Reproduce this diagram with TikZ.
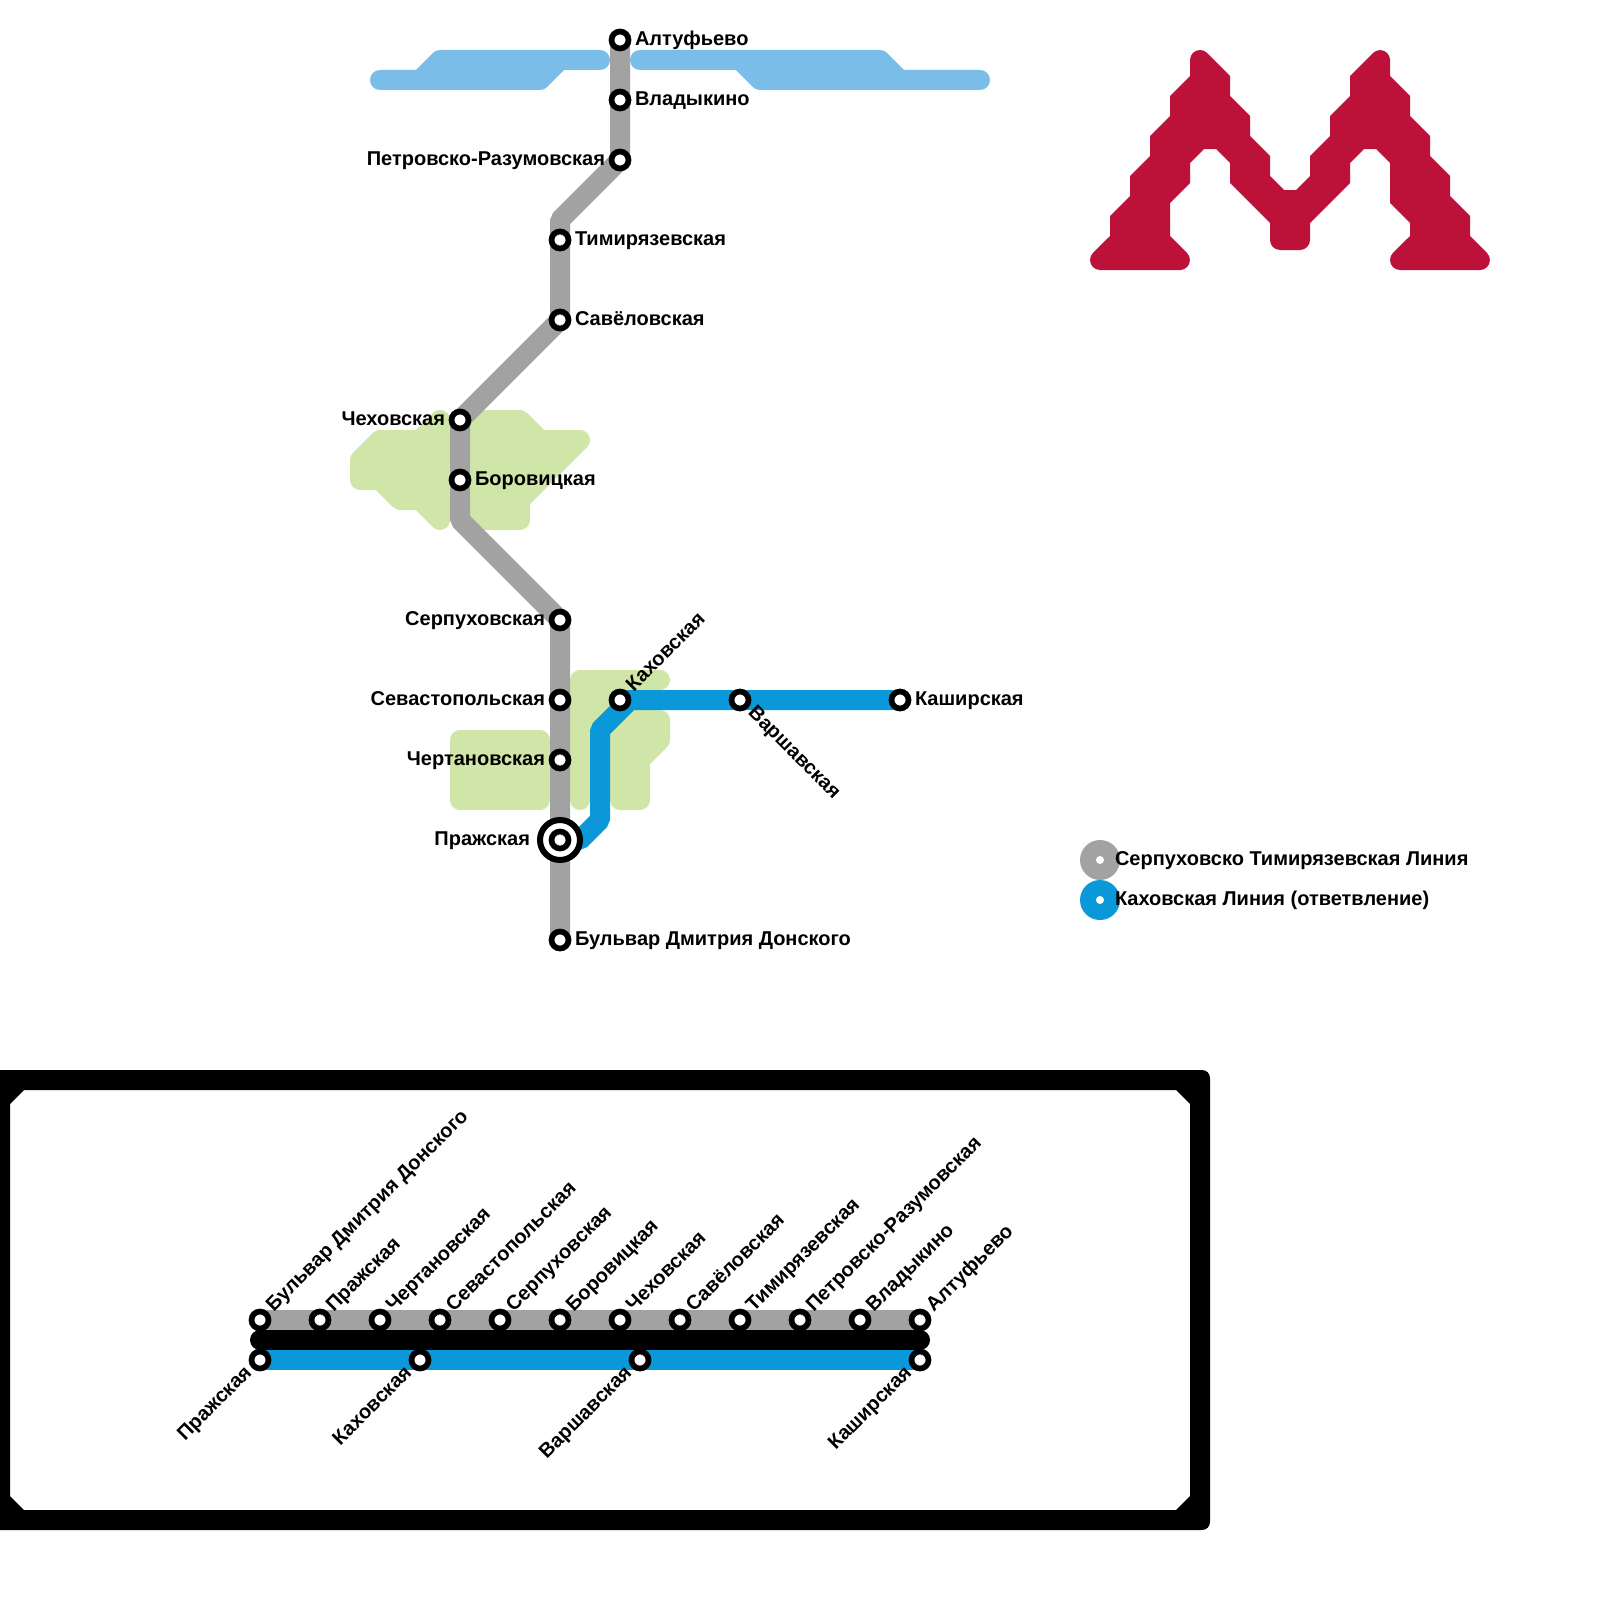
\documentclass[tikz,border=0pt]{standalone}
\usepackage{fontspec}
\setmainfont{Liberation Sans}
\usetikzlibrary{backgrounds}
\definecolor{lgray}{HTML}{A2A2A2}
\definecolor{lblue}{HTML}{0A98D8}
\definecolor{parkg}{HTML}{D0E5A8}
\definecolor{riverb}{HTML}{7ABDE8}
\definecolor{logor}{HTML}{BC123A}
\tikzset{
  stn/.style={circle,draw=black,fill=white,line width=2.85pt,inner sep=0pt,outer sep=0pt,minimum size=8.5pt},
  hub/.style={circle,draw=black,fill=white,line width=3pt,inner sep=0pt,outer sep=0pt,minimum size=20pt},
  lbl/.style={font=\bfseries\fontsize{10}{12}\selectfont,inner sep=0pt,outer sep=0pt,text=black},
  lr/.style={lbl,anchor=base west},
  ll/.style={lbl,anchor=base east},
  lineg/.style={draw=lgray,line width=10pt,line join=bevel},
  lineb/.style={draw=lblue,line width=10pt,line join=bevel},
  bar/.style={draw=black,line width=10pt,line cap=round},
  park/.style={draw=parkg,fill=parkg,line width=10pt,line join=round,line cap=round},
  river/.style={draw=riverb,fill=riverb,line width=10pt,line join=round,line cap=round},
  legdot/.style={circle,fill=#1,inner sep=0pt,outer sep=0pt,minimum size=20pt},
  legcen/.style={circle,fill=white,inner sep=0pt,outer sep=0pt,minimum size=4pt}
}
\begin{document}
\begin{tikzpicture}[x=0.5pt,y=-0.5pt]
\useasboundingbox (0,0) rectangle (1600,1600);
% stations of the main scheme
\node[stn] (alt) at (620,40) {};
\node[stn] (vla) at (620,100) {};
\node[stn] (pet) at (620,160) {};
\coordinate (b1) at (560,220);
\node[stn] (tim) at (560,240) {};
\node[stn] (sav) at (560,320) {};
\node[stn] (che) at (460,420) {};
\node[stn] (bor) at (460,480) {};
\coordinate (b2) at (460,520);
\node[stn] (ser) at (560,620) {};
\node[stn] (sev) at (560,700) {};
\node[stn] (cht) at (560,760) {};
\node[hub] (prh) at (560,840) {};
\node[stn] (pra) at (560,840) {};
\node[stn] (bul) at (560,940) {};
\node[stn] (kah) at (620,700) {};
\node[stn] (var) at (740,700) {};
\node[stn] (kas) at (900,700) {};
\coordinate (b3) at (630,700);
\coordinate (b4) at (600,730);
\coordinate (b5) at (600,820);
\coordinate (b6) at (580,840);
% labels
\path (alt) ++(15,5.5) node[lr] (lalt) {Алтуфьево};
\path (vla) ++(15,5.5) node[lr] (lvla) {Владыкино};
\path (pet) ++(-15,5.5) node[ll] (lpet) {Петровско-Разумовская};
\path (tim) ++(15,5.5) node[lr] (ltim) {Тимирязевская};
\path (sav) ++(15,5.5) node[lr] (lsav) {Савёловская};
\path (che) ++(-15,5.5) node[ll] (lche) {Чеховская};
\path (bor) ++(15,5.5) node[lr] (lbor) {Боровицкая};
\path (ser) ++(-15,5.5) node[ll] (lser) {Серпуховская};
\path (sev) ++(-15,5.5) node[ll] (lsev) {Севастопольская};
\path (cht) ++(-15,5.5) node[ll] (lcht) {Чертановская};
\path (pra) ++(-30,5.5) node[ll] (lpra) {Пражская};
\path (bul) ++(15,5.5) node[lr] (lbul) {Бульвар Дмитрия Донского};
\path (kas) ++(15,5.5) node[lr] (lkas) {Каширская};
\path (kah) ++(13.8,-7.4) node[lr,rotate=45] (lkah) {Каховская};
\path (var) ++(7.4,13.8) node[lr,rotate=-45] (lvar) {Варшавская};
% lower scheme
\foreach \i/\t [evaluate=\i as \xx using {260+60*\i}] in {0/Бульвар Дмитрия Донского,1/Пражская,2/Чертановская,3/Севастопольская,4/Серпуховская,5/Боровицкая,6/Чеховская,7/Савёловская,8/Тимирязевская,9/Петровско-Разумовская,10/Владыкино,11/Алтуфьево}{
  \node[stn] (t\i) at (\xx,1320) {};
  \path (t\i) ++(13.8,-7.4) node[lr,rotate=45] (lt\i) {\t};
}
\foreach \n/\xx/\t in {0/260/Пражская,1/420/Каховская,2/640/Варшавская,3/920/Каширская}{
  \node[stn] (u\n) at (\xx,1360) {};
  \path (u\n) ++(-7.4,13.8) node[ll,rotate=45] (lu\n) {\t};
}
\coordinate (bl) at (260,1340);
\coordinate (br) at (920,1340);
% legend
\node[legdot=lgray] (lg1) at (1100,860) {};
\node[legdot=lblue] (lg2) at (1100,900) {};
\node[legcen] (lc1) at (lg1) {};
\node[legcen] (lc2) at (lg2) {};
\path (lg1) ++(15,5.5) node[lr] (lt1a) {Серпуховско Тимирязевская Линия};
\path (lg2) ++(15,5.5) node[lr] (lt2a) {Каховская Линия (ответвление)};
\begin{scope}[on background layer]
  % rivers
  \path[river] (380,80)--(420,80)--(440,60)--(600,60)--(560,60)--(540,80)--cycle;
  \path[river] (640,60)--(880,60)--(900,80)--(980,80)--(760,80)--(740,60)--cycle;
  % parks
  \path[park] (360,460)--(380,440)--(420,440)--(440,420)--(440,520)--(420,500)--(400,500)--(380,480)--(360,480)--cycle;
  \path[park] (480,420)--(520,420)--(540,440)--(580,440)--(520,500)--(520,520)--(480,520)--cycle;
  \path[park] (460,740)--(540,740)--(540,800)--(460,800)--cycle;
  \path[park] (580,800)--(580,680)--(660,680)--(600,700)--cycle;
  \path[park] (620,800)--(640,800)--(640,760)--(660,740)--(660,720)--(620,720)--cycle;
  % lines
  \draw[lineg] (alt.center)--(vla.center)--(pet.center)--(b1)--(tim.center)--(sav.center)--(che.center)--(bor.center)--(b2)--(ser.center)--(sev.center)--(cht.center)--(pra.center)--(bul.center);
  \draw[lineb] (kas.center)--(var.center)--(kah.center)--(b3)--(b4)--(b5)--(b6)--(pra.center);
  \draw[lineg] (t0.center)--(t11.center);
  \draw[lineb] (u0.center)--(u3.center);
  \draw[bar] (bl)--(br);
  % frame
  \fill[even odd rule,black] [rounded corners=4pt] (-10,1070) rectangle (1210,1530) [sharp corners] (24,1090)--(1176,1090)--(1190,1104)--(1190,1496)--(1176,1510)--(24,1510)--(10,1496)--(10,1104)--cycle;
  % logo
  \fill[logor] (1190,76)--(1190,60) arc[start angle=-180,end angle=-45,radius=10] --(1230,76)--(1230,96)--(1250,116)--(1250,136)--(1270,156)--(1270,176)--(1284,190)--(1296,190)--(1310,176)--(1310,156)--(1330,136)--(1330,116)--(1350,96)--(1350,76)--(1373,53) arc[start angle=-135,end angle=0,radius=10] --(1390,76)--(1410,96)--(1410,116)--(1430,136)--(1430,156)--(1450,176)--(1450,196)--(1470,216)--(1470,236)--(1487,253) arc[start angle=-45,end angle=90,radius=10] --(1400,270) arc[start angle=90,end angle=225,radius=10] --(1410,236)--(1410,223)--(1390,203)--(1390,163)--(1376,149)--(1364,149)--(1350,163)--(1350,183)--(1310,223)--(1310,240) arc[start angle=0,end angle=90,radius=10] --(1280,250) arc[start angle=90,end angle=180,radius=10] --(1270,223)--(1230,183)--(1230,163)--(1216,149)--(1204,149)--(1190,163)--(1190,183)--(1170,203)--(1170,236)--(1187,253) arc[start angle=-45,end angle=90,radius=10] --(1100,270) arc[start angle=90,end angle=225,radius=10] --(1110,236)--(1110,216)--(1130,196)--(1130,176)--(1150,156)--(1150,136)--(1170,116)--(1170,96)--cycle;
\end{scope}
\end{tikzpicture}
\end{document}
